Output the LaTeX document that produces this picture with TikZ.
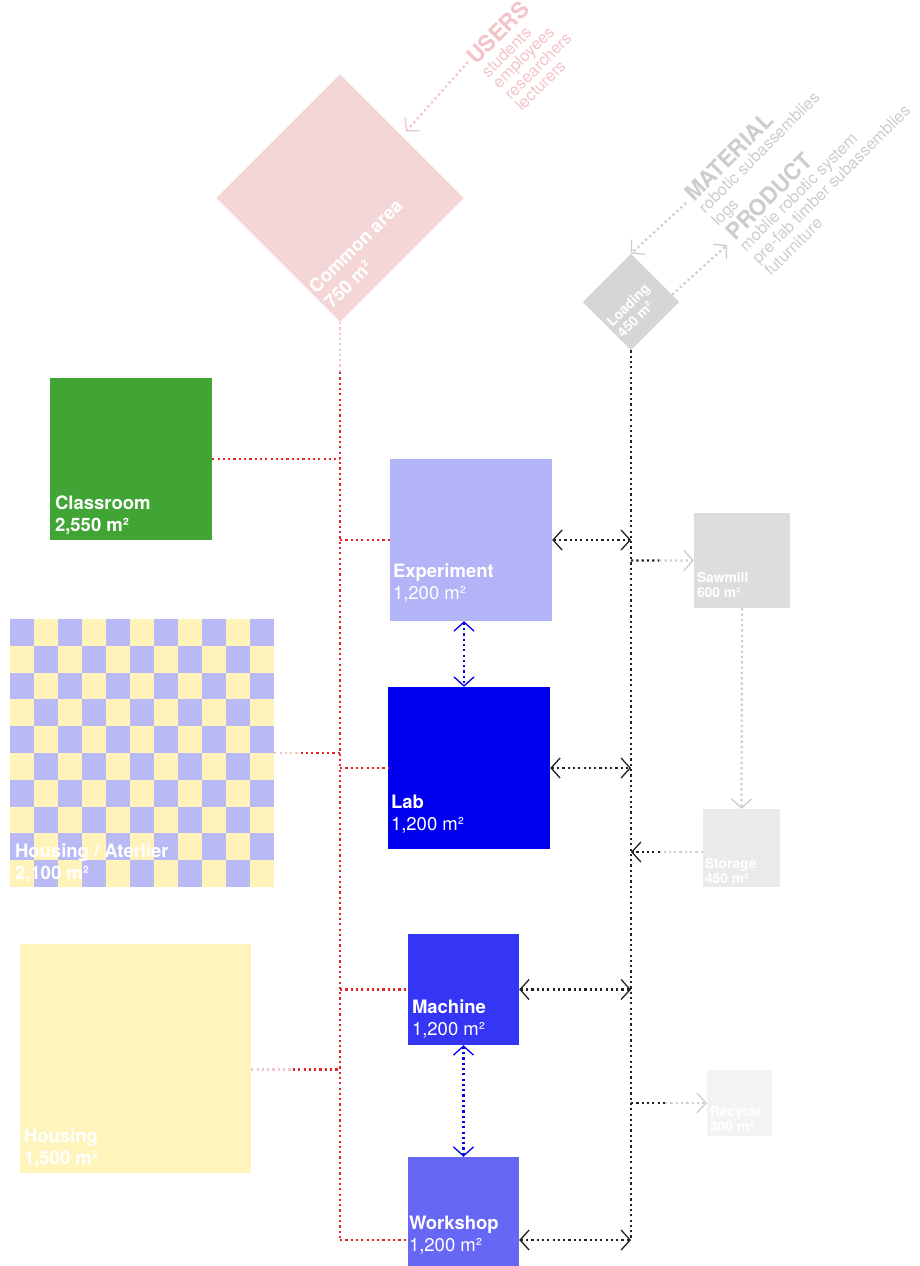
\documentclass[tikz,border=0pt]{standalone}
\usepackage{fontspec}
\setmainfont{TeX Gyre Heros}
\usetikzlibrary{calc, arrows.meta}

\definecolor{commonpink}{HTML}{F5D6D6}
\definecolor{userpink}{HTML}{F3C4C7}
\definecolor{classgreen}{HTML}{41A535}
\definecolor{expblue}{HTML}{B3B3F7}
\definecolor{labblue}{HTML}{0000EE}
\definecolor{machblue}{HTML}{3535F5}
\definecolor{shopblue}{HTML}{6767F5}
\definecolor{houseyellow}{HTML}{FFF5BC}
\definecolor{ckpurple}{HTML}{B9B9F5}
\definecolor{ckyellow}{HTML}{FFF3BA}
\definecolor{loadgray}{HTML}{D6D6D6}
\definecolor{sawgray}{HTML}{DCDDDD}
\definecolor{storegray}{HTML}{E9EAEA}
\definecolor{recygray}{HTML}{F3F3F3}
\definecolor{taggray}{HTML}{CDCDCD}
\definecolor{linkred}{HTML}{E3242B}
\definecolor{linkpink}{HTML}{F3C4C8}
\definecolor{linkblack}{HTML}{222222}

\newcommand{\roomfont}{\fontsize{18.5}{22}\selectfont}
\newcommand{\smallroomfont}{\fontsize{13.8}{15}\selectfont}
\newcommand{\headfont}{\fontsize{22.5}{22}\selectfont\bfseries}

\tikzset{
  room/.style={inner sep=0pt, minimum size=#1},
  roomlbl/.style={text=white, anchor=base west, align=left, inner sep=0pt, font=\roomfont},
  smalllbl/.style={roomlbl, font=\smallroomfont\bfseries},
  tag/.style={rotate=45, anchor=base west, align=left, inner sep=0pt},
  link/.style={line width=2.2pt, dash pattern=on 2.2pt off 3.1pt},
  vtip/.tip={Straight Barb[length=9pt, width=20pt, line width=1.3pt]},
}

\begin{document}
\begin{tikzpicture}[x=1pt, y=-1pt]
\useasboundingbox (0,0) rectangle (920,1266);

% rooms
\node[room=175, rotate=45, fill=commonpink] (common) at (340,198) {};
\node[room=68, rotate=45, fill=loadgray] (loading) at (631,302) {};
\node[room=162, fill=classgreen] (classroom) at (131,459) {};
\node[room=162, fill=expblue] (experiment) at (471,540) {};
\node[room=162, fill=labblue] (lab) at (469,768) {};
\node[room=111, fill=machblue] (machine) at (463.5,989.5) {};
\node[room=111, fill=shopblue] (workshop) at (463.5,1212.5) {};
\node[room=231, minimum height=229, fill=houseyellow] (housing) at (135.5,1058.5) {};
\node[room=264, minimum height=268, fill=ckyellow] (atelier) at (142,753) {};
\node[room=96, minimum height=95, fill=sawgray] (sawmill) at (742,560.5) {};
\node[room=77, minimum height=78, fill=storegray] (storage) at (741.5,848) {};
\node[room=65, minimum height=66, fill=recygray] (recycle) at (739.5,1103) {};

% checker pattern of housing / atelier
\foreach \i in {0,...,10}
  \foreach \j in {0,...,9}
  {
    \pgfmathtruncatemacro{\odd}{mod(\i+\j,2)}
    \ifnum\odd=0
      \fill[ckpurple] (10+24*\i, 619+26.8*\j) rectangle ++(24,26.8);
    \fi
  }

% labels
\node[roomlbl, rotate=45, font=\roomfont\bfseries] at ($(common.south west)+(-8,-12)$) {Common area\\750 m²};
\node[smalllbl, rotate=45] at ($(loading.south west)+(-8,-12)$) {Loading\\450 m²};
\node[roomlbl, font=\roomfont\bfseries] at ($(classroom.south west)+(5,-9)$) {Classroom\\2,550 m²};
\node[roomlbl] at ($(experiment.south west)+(3,-22)$) {\textbf{Experiment}\\1,200 m²};
\node[roomlbl] at ($(lab.south west)+(3,-19)$) {\textbf{Lab}\\1,200 m²};
\node[roomlbl] at ($(machine.south west)+(4,-10)$) {\textbf{Machine}\\1,200 m²};
\node[roomlbl] at ($(workshop.south west)+(1,-17)$) {\textbf{Workshop}\\1,200 m²};
\node[roomlbl, font=\roomfont\bfseries] at ($(housing.south west)+(4,-9)$) {Housing\\1,500 m²};
\node[roomlbl, font=\roomfont\bfseries] at ($(atelier.south west)+(5,-8)$) {Housing / Aterlier\\2,100 m²};
\node[smalllbl] at ($(sawmill.south west)+(3,-11)$) {Sawmill\\600 m²};
\node[smalllbl] at ($(storage.south west)+(2,-4)$) {Storage\\450 m²};
\node[smalllbl] at ($(recycle.south west)+(3,-5)$) {Recycle\\300 m²};

% flows in and out
\node[tag, text=userpink, font=\fontsize{16.5}{15.5}\selectfont] (users) at (522,112)
  {{\headfont USERS}\\[2pt]students\\employees\\researchers\\lecturers};
\node[tag, text=taggray, font=\fontsize{16.5}{18}\selectfont] (material) at (718,227)
  {{\headfont MATERIAL}\\[-2pt]robotic subassemblies\\logs};
\node[tag, text=taggray, font=\fontsize{16.5}{17.5}\selectfont] (product) at (771,277)
  {{\headfont PRODUCT}\\[-2pt]moblie robotic system\\pre-fab timber subassemblies\\futurniture};
\coordinate (userin) at (468,62);
\coordinate (matin) at (686,203);
\coordinate (prodout) at (727,245);
\draw[link, linkpink, -vtip, shorten >=6pt] (userin) -- (common.east);
\draw[link, taggray, -vtip] (matin) -- (loading.north east);
\draw[link, taggray, -vtip] ($(loading.south east)!0.15!(loading.north east)$) -- (prodout);

% red spine
\coordinate (redtop) at (340,372);
\coordinate (redend) at (340,1240);
\draw[link, linkpink] (common.south west) -- (redtop);
\draw[link, linkred] (redtop) -- (redend);
\draw[link, linkred] (classroom.east) -- (classroom.east -| redtop);
\draw[link, linkred] (experiment.west -| redtop) -- (experiment.west);
\draw[link, linkred] (lab.west -| redtop) -- (lab.west);
\draw[link, linkred] (machine.west -| redtop) -- (machine.west);
\draw[link, linkred] (redend) -- (redend -| workshop.west);
\coordinate (ateljoin) at (atelier.east -| redtop);
\draw[link, linkpink] (atelier.east) -- ($(atelier.east)!0.4!(ateljoin)$);
\draw[link, linkred] ($(atelier.east)!0.4!(ateljoin)$) -- (ateljoin);
\coordinate (houseout) at ([yshift=-11]housing.east);
\coordinate (housejoin) at (houseout -| redtop);
\draw[link, linkpink] (houseout) -- ($(houseout)!0.47!(housejoin)$);
\draw[link, linkred] ($(houseout)!0.47!(housejoin)$) -- (housejoin);

% black spine
\coordinate (dockend) at (631,1240);
\draw[link, linkblack] (loading.south west) -- (dockend);
\draw[link, linkblack, vtip-vtip] (experiment.east) -- (experiment.east -| dockend);
\draw[link, linkblack, vtip-vtip] (lab.east) -- (lab.east -| dockend);
\draw[link, linkblack, vtip-vtip] (machine.east) -- (machine.east -| dockend);
\draw[link, linkblack, vtip-vtip] (redend -| workshop.east) -- (dockend);

% wood cycle
\coordinate (sawjoin) at (sawmill.west -| dockend);
\draw[link, linkblack] (sawjoin) -- ($(sawjoin)!0.45!(sawmill.west)$);
\draw[link, taggray, -vtip] ($(sawjoin)!0.45!(sawmill.west)$) -- (sawmill.west);
\draw[link, taggray, -vtip] (sawmill.south) -- (storage.north);
\coordinate (storeout) at ([yshift=-4]storage.west);
\coordinate (storejoin) at (storeout -| dockend);
\draw[link, taggray] (storeout) -- ($(storeout)!0.6!(storejoin)$);
\draw[link, linkblack, -vtip] ($(storeout)!0.6!(storejoin)$) -- (storejoin);
\coordinate (recyjoin) at (recycle.west -| dockend);
\draw[link, linkblack] (recyjoin) -- ($(recyjoin)!0.45!(recycle.west)$);
\draw[link, taggray, -vtip] ($(recyjoin)!0.45!(recycle.west)$) -- (recycle.west);

% machine rooms
\draw[link, labblue, vtip-vtip] ([xshift=-7]experiment.south) -- ([xshift=-5]lab.north);
\draw[link, labblue, vtip-vtip] (machine.south) -- (workshop.north);
\end{tikzpicture}
\end{document}
